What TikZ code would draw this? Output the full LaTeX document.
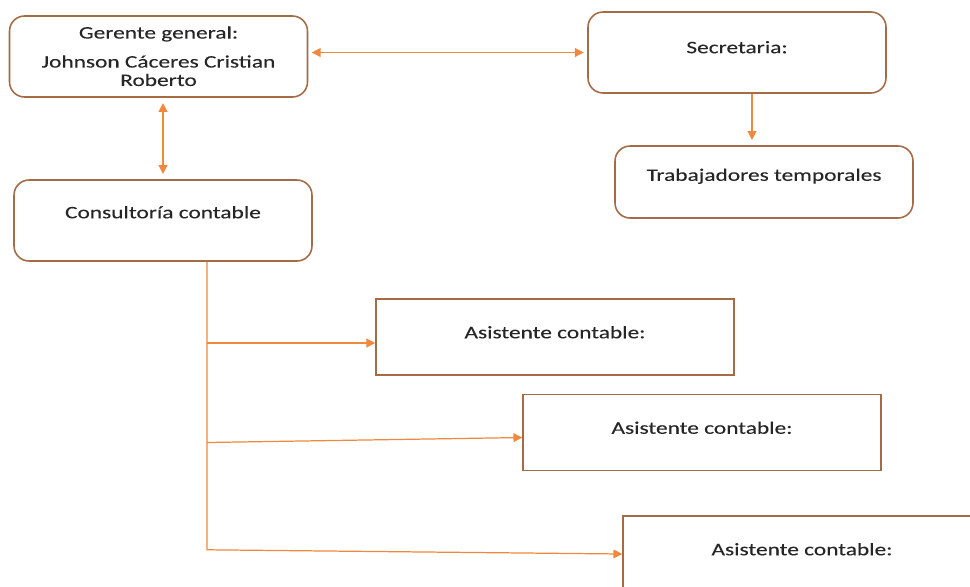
\documentclass[tikz,border=0pt]{standalone}
\usepackage{fontspec}
\setmainfont[FakeStretch=1.33, FakeBold=0.12]{Carlito}
\usetikzlibrary{arrows.meta,calc}
\definecolor{borde}{HTML}{A46B47}
\definecolor{naranja}{HTML}{F0883E}
\tikzset{
	cargo/.style = {draw = borde, line width = .9pt, rounded corners = 3mm, minimum width = 5.96cm, minimum height = 1.62cm},
	puesto/.style = {draw = borde, line width = .9pt, minimum width = 7.16cm, minimum height = 1.52cm},
	texto/.style = {font = \fontsize{10}{10.5}\selectfont, text = black!85, align = center, inner sep = 0pt},
	flecha/.style = {draw = naranja, line width = .7pt, -{Triangle[width = 5pt, length = 5pt]}},
	dflecha/.style = {flecha, {Triangle[width = 5pt, length = 5pt]}-{Triangle[width = 5pt, length = 5pt]}}
}
\begin{document}
	\begin{tikzpicture}[x = 0.02cm, y = -0.02cm]
	\useasboundingbox (0, 0) rectangle (970, 586);
	\clip (0, 0) rectangle (970, 586);
	% cajas
	\node[cargo] (gg) at (158.5, 56.5) {};
	\node[cargo] (sec) at (737, 52.5) {};
	\node[cargo, minimum height = 1.44cm] (tra) at (764, 182) {};
	\node[cargo] (con) at (163, 220.5) {};
	\node[puesto] (as1) at (555, 337) {};
	\node[puesto] (as2) at (702, 432.5) {};
	\node[puesto] (as3) at (802, 554) {};
	% textos
	\node[texto] (tgg) at ($(gg.north)+(0, 41)$) {Gerente general:\\[6pt] Johnson Cáceres Cristian\\Roberto};
	\node[texto] (tsec) at ($(sec.north)+(0, 36)$) {Secretaria:};
	\node[texto] (ttra) at ($(tra.north)+(0, 31)$) {Trabajadores temporales};
	\node[texto] (tcon) at ($(con.north)+(0, 33)$) {Consultoría contable};
	\foreach \n in {as1, as2, as3}{
		\node[texto] (t\n) at ($(\n.north)+(0, 34)$) {Asistente contable:};}
	% conexiones
	\draw[dflecha, shorten <= 2pt, shorten >= 2pt] (gg.east |- sec.west) -- (sec.west);
	\draw[dflecha, shorten <= 3pt, shorten >= 3pt] (gg.south -| con.north) -- (con.north);
	\coordinate (s1) at ($(sec.south)+(15, 0)$);
	\draw[flecha, shorten >= 3pt] (s1) -- (s1 |- tra.north);
	\coordinate (tr) at ($(con.south)+(44, 0)$);
	\draw[flecha] (tr) -- ++(0, 288) -- (as3.west);
	\draw[flecha] ($(tr |- as1.west)+(0, 6)$) -- ($(as1.west)+(0, 6)$);
	\draw[flecha] ($(tr |- as2.west)+(0, 10)$) -- ($(as2.west)+(0, 5)$);
	\end{tikzpicture}
\end{document}
